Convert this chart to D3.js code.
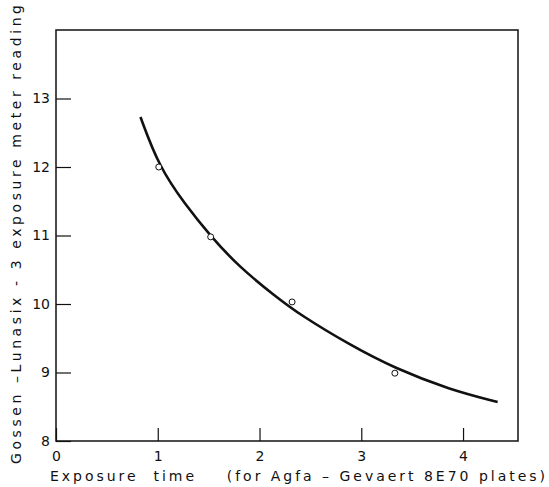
<!DOCTYPE html>
<html>
<head>
<meta charset="utf-8">
<script src="https://cdn.jsdelivr.net/npm/d3@7.9.0/dist/d3.min.js"></script>
<style>
  body { margin: 0; background: #fff; }
  text { font-family: "DejaVu Sans", sans-serif; fill: #111; }
</style>
</head>
<body>
<svg id="chart" width="549" height="487"></svg>
<script>
// measured points (exposure time, meter reading)
const pointX = [1.01, 1.52, 2.32, 3.33];
const pointY = [12.0, 10.98, 10.03, 8.99];

// hand-drawn fitted curve
const curveX = [0.83, 1.01, 1.27, 1.52, 1.80, 2.15, 2.40, 2.89, 3.33, 3.87, 4.34];
const curveY = [12.73, 12.01, 11.45, 10.99, 10.54, 10.12, 9.84, 9.40, 9.06, 8.75, 8.57];

const xTicks = [0, 1, 2, 3, 4];
const yTicks = [8, 9, 10, 11, 12, 13];

const xLabel = "Exposure  time    (for Agfa \u2013 Gevaert 8E70 plates)";
const yLabel = "Gossen \u2013Lunasix - 3 exposure meter reading";

const svg = d3.select("#chart");
const margin = { top: 30, right: 31, bottom: 46, left: 56 };
const width  = +svg.attr("width")  - margin.left - margin.right;
const height = +svg.attr("height") - margin.top  - margin.bottom;

const g = svg.append("g")
  .attr("transform", `translate(${margin.left},${margin.top})`);

const x = d3.scaleLinear().domain([0, 4.54]).range([0, width]);
const y = d3.scaleLinear().domain([8, 14]).range([height, 0]);

// frame
g.append("rect")
  .attr("width", width)
  .attr("height", height)
  .attr("fill", "none")
  .attr("stroke", "#111")
  .attr("stroke-width", 1.5);

const xAxis = g.append("g")
  .attr("transform", `translate(0,${height})`)
  .call(d3.axisBottom(x).tickValues(xTicks).tickFormat(d3.format("d"))
    .tickSizeInner(-13).tickSizeOuter(0).tickPadding(10));
xAxis.select(".domain").remove();
xAxis.selectAll("line").attr("stroke", "#111").attr("stroke-width", 1.2);
xAxis.selectAll("text").style("font-size", "14px").attr("fill", "#111");

const yAxis = g.append("g")
  .call(d3.axisLeft(y).tickValues(yTicks).tickFormat(d3.format("d"))
    .tickSizeInner(-15).tickSizeOuter(0).tickPadding(6));
yAxis.select(".domain").remove();
yAxis.selectAll("line").attr("stroke", "#111").attr("stroke-width", 1.2);
yAxis.selectAll("text").style("font-size", "14px").attr("fill", "#111");

// curve (smoothed through the read-off points)
const curveData = curveX.map((v, i) => [v, curveY[i]]);
g.append("path")
  .datum(curveData)
  .attr("fill", "none")
  .attr("stroke", "#111")
  .attr("stroke-width", 2.6)
  .attr("d", d3.line().x(d => x(d[0])).y(d => y(d[1])).curve(d3.curveBasis));

// points
g.selectAll(".pt")
  .data(pointX.map((v, i) => [v, pointY[i]]))
  .enter()
  .append("circle")
  .attr("class", "pt")
  .attr("cx", d => x(d[0]))
  .attr("cy", d => y(d[1]))
  .attr("r", 3)
  .attr("fill", "#fff")
  .attr("stroke", "#111")
  .attr("stroke-width", 1);

// axis titles
svg.append("text")
  .attr("x", 50)
  .attr("y", 481)
  .attr("textLength", 495)
  .attr("lengthAdjust", "spacing")
  .style("font-size", "14px")
  .style("white-space", "pre")
  .text(xLabel);

svg.append("text")
  .attr("transform", "translate(21,464) rotate(-90)")
  .attr("textLength", 459)
  .attr("lengthAdjust", "spacing")
  .style("font-size", "14px")
  .style("white-space", "pre")
  .text(yLabel);
</script>
</body>
</html>
